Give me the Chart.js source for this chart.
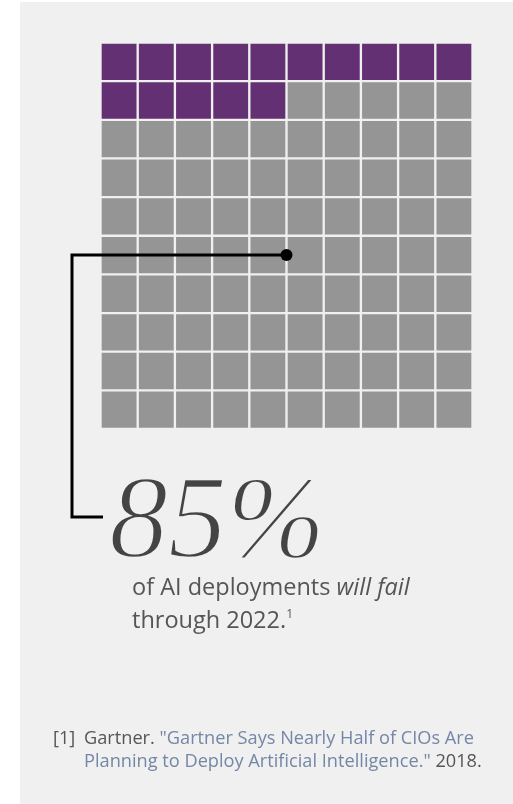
<!DOCTYPE html>
<html>
<head>
<meta charset="utf-8">
<script src="https://cdn.jsdelivr.net/npm/chart.js@4.4.1/dist/chart.umd.min.js"></script>
<style>
  html, body { margin: 0; padding: 0; background: #ffffff; }
  #page { position: relative; width: 513px; height: 804px; overflow: hidden; }
  #panel { position: absolute; left: 20px; top: 2px; width: 493px; height: 802px; background: #eff0ef; }
  #chart { position: absolute; left: 0; top: 0; }
  .big {
    position: absolute; left: 109px; top: 459px;
    font-family: "Liberation Serif", serif; font-style: italic;
    font-size: 118px; line-height: 118px; color: #444;
    -webkit-text-stroke: 2.4px #eff0ef;
  }
  .caption {
    position: absolute; left: 132px; top: 570px;
    font-family: "Open Sans", sans-serif; font-size: 23.5px; line-height: 33px; color: #555;
  }
  .caption sup { font-size: 12px; vertical-align: 10px; line-height: 0; }
  .note {
    position: absolute; left: 53px; top: 726px; width: 460px;
    font-family: "Open Sans", sans-serif; font-size: 18.2px; line-height: 23px; color: #555;
    white-space: nowrap;
  }
  .note .ref { display: inline-block; width: 31px; }
  .note .q { color: #7487a6; }
  .note .l2 { padding-left: 31px; }
</style>
</head>
<body>
<div id="page">
  <div id="panel"></div>
  <canvas id="chart" width="513" height="804"></canvas>
  <div class="big">85%</div>
  <div class="caption">of AI deployments <i>will fail</i><br>through 2022.<sup>1</sup></div>
  <div class="note">
    <div><span class="ref">[1]</span>Gartner. <span class="q">"Gartner Says Nearly Half of CIOs Are</span></div>
    <div class="l2"><span class="q">Planning to Deploy Artificial Intelligence."</span> 2018.</div>
  </div>
</div>
<script>
// waffle: 10 columns x 10 rows, first 15 cells filled in reading order
const columns = ['1', '2', '3', '4', '5', '6', '7', '8', '9', '10'];
const rowCount = 10;
const highlightedCells = 15;
const callout = { x: 4.5, y: 5.5 }; // gap between col 5 and 6, middle of row 6

const purple = '#633074';
const grey = '#959596';
const panelColor = '#eff0ef';

// one stacked dataset per row, each cell is one unit tall
const datasets = [];
for (let r = 0; r < rowCount; r++) {
  datasets.push({
    data: columns.map(() => 1),
    backgroundColor: columns.map((_, c) => (r * columns.length + c < highlightedCells ? purple : grey)),
    borderColor: panelColor,
    borderWidth: 1.5,
    borderSkipped: false,
    categoryPercentage: 1,
    barPercentage: 1,
  });
}

// leader line from the callout point out to the big number
const leaderLine = {
  id: 'leaderLine',
  afterDraw(chart) {
    const { ctx, scales } = chart;
    const px = scales.x.getPixelForValue(callout.x);
    const py = scales.y.getPixelForValue(callout.y);
    ctx.save();
    ctx.strokeStyle = '#000';
    ctx.lineWidth = 3;
    ctx.beginPath();
    ctx.moveTo(px, py);
    ctx.lineTo(72, py);
    ctx.lineTo(72, 517);
    ctx.lineTo(103, 517);
    ctx.stroke();
    ctx.fillStyle = '#000';
    ctx.beginPath();
    ctx.arc(px, py, 6, 0, Math.PI * 2);
    ctx.fill();
    ctx.restore();
  },
};

new Chart(document.getElementById('chart'), {
  type: 'bar',
  data: { labels: columns, datasets },
  options: {
    responsive: false,
    animation: false,
    events: [],
    layout: { padding: { left: 100.5, top: 42.5, right: 40.5, bottom: 375 } },
    plugins: { legend: { display: false }, tooltip: { enabled: false } },
    scales: {
      x: { stacked: true, display: false },
      y: { stacked: true, min: 0, max: rowCount, reverse: true, display: false },
    },
  },
  plugins: [leaderLine],
});
</script>
</body>
</html>
